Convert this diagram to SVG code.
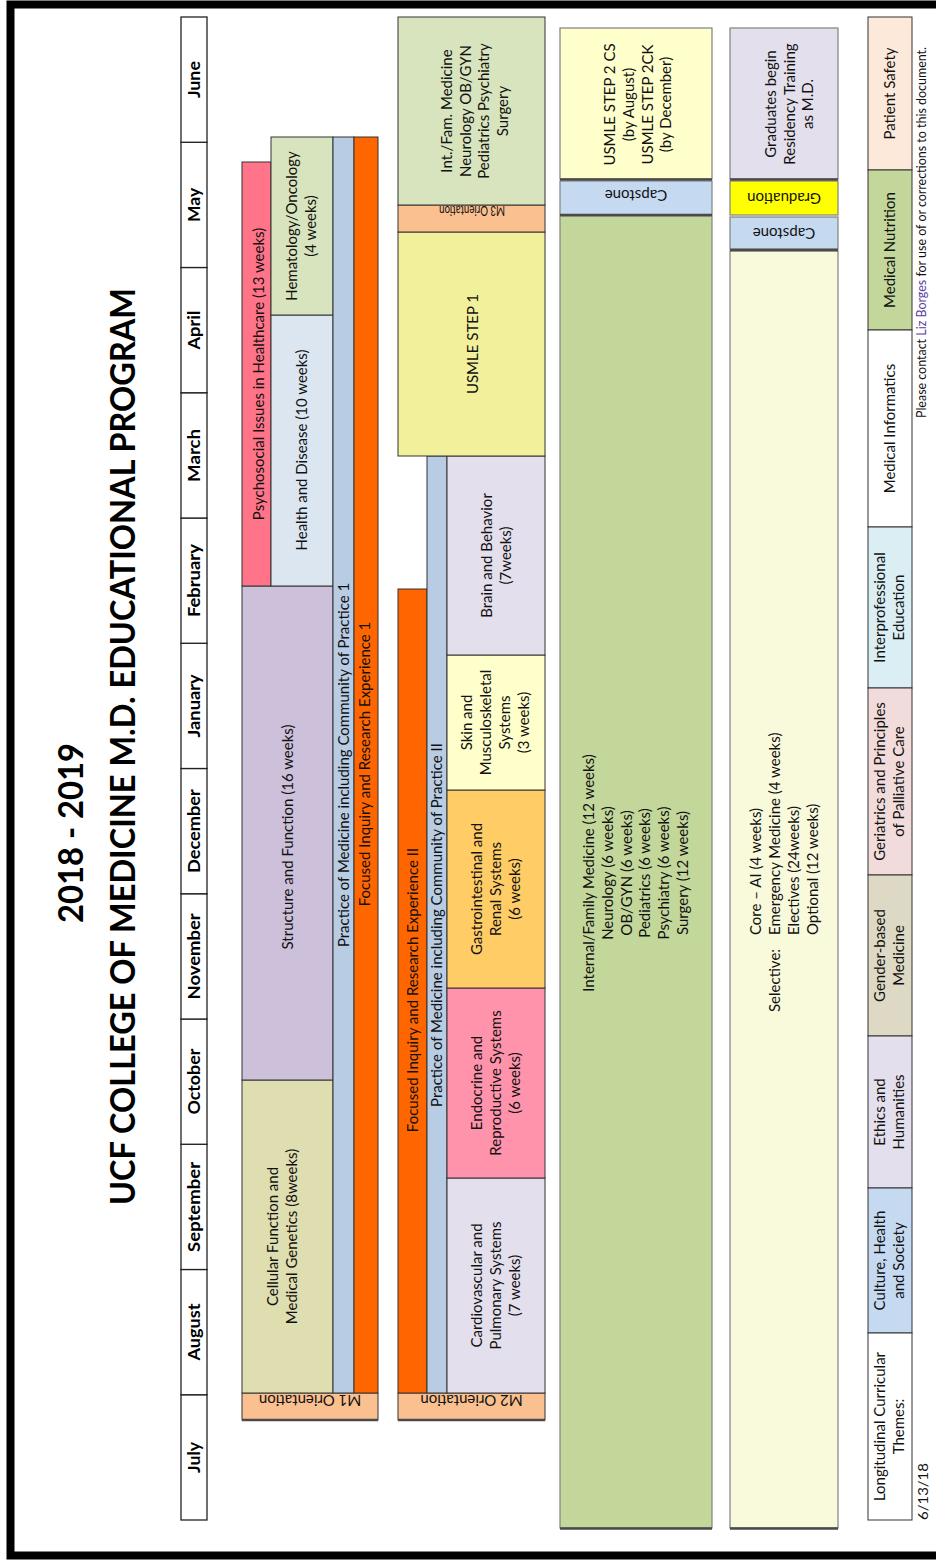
<svg xmlns="http://www.w3.org/2000/svg" width="936" height="1560" viewBox="0 0 936 1560">
<style>
text{font-family:Lato,"Liberation Sans",sans-serif;font-size:15px;fill:#111;text-anchor:middle}
.ti{font-size:35px;font-weight:bold;fill:#000}
.mo{font-size:17px;font-weight:bold;fill:#000}
.st{text-anchor:start}
.bx{stroke:#333;stroke-width:1}
.gb{stroke:#808080;stroke-width:1.2}
.sh{stroke:#4a4a4a;stroke-width:2.5}
.mc{fill:#fff;stroke:#222;stroke-width:1.3}
</style>
<rect width="936" height="1560" fill="#fff"/>
<rect x="10.5" y="4.5" width="1000" height="1551" fill="none" stroke="#000" stroke-width="8"/>

<g id="title">
<text class="ti" transform="translate(83 833) rotate(-90)" textLength="180" lengthAdjust="spacingAndGlyphs">2018 - 2019</text>
<text class="ti" transform="translate(135 746.5) rotate(-90)" textLength="917" lengthAdjust="spacingAndGlyphs">UCF COLLEGE OF MEDICINE M.D. EDUCATIONAL PROGRAM</text>
</g>

<g id="months">
<rect class="mc" x="181" y="1394.75" width="26" height="125.25"/>
<rect class="mc" x="181" y="1269.5" width="26" height="125.25"/>
<rect class="mc" x="181" y="1144.25" width="26" height="125.25"/>
<rect class="mc" x="181" y="1019" width="26" height="125.25"/>
<rect class="mc" x="181" y="893.75" width="26" height="125.25"/>
<rect class="mc" x="181" y="768.5" width="26" height="125.25"/>
<rect class="mc" x="181" y="643.25" width="26" height="125.25"/>
<rect class="mc" x="181" y="518" width="26" height="125.25"/>
<rect class="mc" x="181" y="392.75" width="26" height="125.25"/>
<rect class="mc" x="181" y="267.5" width="26" height="125.25"/>
<rect class="mc" x="181" y="142.25" width="26" height="125.25"/>
<rect class="mc" x="181" y="17" width="26" height="125.25"/>
<text class="mo" transform="translate(200 1457.4) rotate(-90)" textLength="31" lengthAdjust="spacingAndGlyphs">July</text>
<text class="mo" transform="translate(200 1332.1) rotate(-90)" textLength="57" lengthAdjust="spacingAndGlyphs">August</text>
<text class="mo" transform="translate(200 1206.9) rotate(-90)" textLength="90" lengthAdjust="spacingAndGlyphs">September</text>
<text class="mo" transform="translate(200 1081.6) rotate(-90)" textLength="66" lengthAdjust="spacingAndGlyphs">October</text>
<text class="mo" transform="translate(200 956.4) rotate(-90)" textLength="86" lengthAdjust="spacingAndGlyphs">November</text>
<text class="mo" transform="translate(200 831.1) rotate(-90)" textLength="84" lengthAdjust="spacingAndGlyphs">December</text>
<text class="mo" transform="translate(200 705.9) rotate(-90)" textLength="63" lengthAdjust="spacingAndGlyphs">January</text>
<text class="mo" transform="translate(200 580.6) rotate(-90)" textLength="73" lengthAdjust="spacingAndGlyphs">February</text>
<text class="mo" transform="translate(200 455.4) rotate(-90)" textLength="53" lengthAdjust="spacingAndGlyphs">March</text>
<text class="mo" transform="translate(200 330.1) rotate(-90)" textLength="39" lengthAdjust="spacingAndGlyphs">April</text>
<text class="mo" transform="translate(200 204.9) rotate(-90)" textLength="34" lengthAdjust="spacingAndGlyphs">May</text>
<text class="mo" transform="translate(200 79.6) rotate(-90)" textLength="37" lengthAdjust="spacingAndGlyphs">June</text>
</g>

<g id="m1">
<g id="m1-orientation"><rect class="bx" x="242" y="1393" width="136" height="27" fill="#FAC08F"/><line class="sh" x1="242" y1="1420" x2="378" y2="1420"/><text transform="translate(310 1394.5) rotate(180)">M1 Orientation</text></g>
<g id="m1-cellular"><rect class="bx" x="242" y="1080" width="91" height="313" fill="#DEDEB0"/><text transform="translate(278 1236.5) rotate(-90)"><tspan x="0" y="0">Cellular Function and</tspan><tspan x="0" dy="19">Medical Genetics (8weeks)</tspan></text></g>
<g id="m1-structure"><rect class="bx" x="242" y="586" width="91" height="494" fill="#CCC0DA"/><text transform="translate(293 837) rotate(-90)">Structure and Function (16 weeks)</text></g>
<g id="m1-psychosocial"><rect class="bx" x="242" y="162" width="29" height="424" fill="#FF7489"/><text transform="translate(264 374) rotate(-90)">Psychosocial Issues in Healthcare (13 weeks)</text></g>
<g id="m1-health"><rect class="bx" x="271" y="315" width="62" height="271" fill="#DCE6F1"/><text transform="translate(306.5 450) rotate(-90)">Health and Disease (10 weeks)</text></g>
<g id="m1-hematology"><rect class="bx" x="271" y="137" width="62" height="178" fill="#D7E4BD"/><text transform="translate(297 226) rotate(-90)"><tspan x="0" y="0">Hematology/Oncology</tspan><tspan x="0" dy="19">(4 weeks)</tspan></text></g>
<g id="m1-practice"><rect class="bx" x="333" y="137" width="21" height="1256" fill="#B8CCE4"/><text transform="translate(348.5 765) rotate(-90)">Practice of Medicine including Community of Practice 1</text></g>
<g id="m1-focused"><rect class="bx" x="354" y="137" width="24" height="1256" fill="#FF6600"/><text transform="translate(369.5 764) rotate(-90)">Focused Inquiry and Research Experience 1</text></g>
</g>

<g id="m2">
<g id="m2-orientation"><rect class="bx" x="398" y="1393" width="147" height="27" fill="#FAC08F"/><line class="sh" x1="398" y1="1420" x2="545" y2="1420"/><text transform="translate(471.5 1394.5) rotate(180)">M2 Orientation</text></g>
<g id="m2-focused"><rect class="bx" x="398" y="589" width="29" height="804" fill="#FF6600"/><text transform="translate(418 990) rotate(-90)">Focused Inquiry and Research Experience II</text></g>
<g id="m2-practice"><rect class="bx" x="427" y="456" width="20" height="937" fill="#B8CCE4"/><text transform="translate(441.5 925) rotate(-90)">Practice of Medicine including Community of Practice II</text></g>
<g id="m2-cardio"><rect class="bx" x="447" y="1178" width="98" height="215" fill="#E4DFEC"/><text transform="translate(481.5 1285.5) rotate(-90)"><tspan x="0" y="0">Cardiovascular and</tspan><tspan x="0" dy="19">Pulmonary Systems</tspan><tspan x="0" dy="19">(7 weeks)</tspan></text></g>
<g id="m2-endocrine"><rect class="bx" x="447" y="988" width="98" height="190" fill="#FF93AC"/><text transform="translate(481.5 1083) rotate(-90)"><tspan x="0" y="0">Endocrine and</tspan><tspan x="0" dy="19">Reproductive Systems</tspan><tspan x="0" dy="19">(6 weeks)</tspan></text></g>
<g id="m2-gi"><rect class="bx" x="447" y="790" width="98" height="198" fill="#FFCC66"/><text transform="translate(481.5 889) rotate(-90)"><tspan x="0" y="0">Gastrointestinal and</tspan><tspan x="0" dy="19">Renal Systems</tspan><tspan x="0" dy="19">(6 weeks)</tspan></text></g>
<g id="m2-skin"><rect class="bx" x="447" y="655" width="98" height="135" fill="#FFFFCC"/><text transform="translate(471.5 722.5) rotate(-90)"><tspan x="0" y="0">Skin and</tspan><tspan x="0" dy="19">Musculoskeletal</tspan><tspan x="0" dy="19">Systems</tspan><tspan x="0" dy="19">(3 weeks)</tspan></text></g>
<g id="m2-brain"><rect class="bx" x="447" y="456" width="98" height="199" fill="#E4DFEC"/><text transform="translate(492 555.5) rotate(-90)"><tspan x="0" y="0">Brain and Behavior</tspan><tspan x="0" dy="19">(7weeks)</tspan></text></g>
<g id="m2-usmle1"><rect class="bx" x="398" y="232" width="147" height="224" fill="#F2F09A"/><text transform="translate(477.5 344) rotate(-90)">USMLE STEP 1</text></g>
<g id="m3-orientation"><rect class="bx" x="398" y="205" width="147" height="27" fill="#FAC08F"/><text style="font-size:13px" transform="translate(472 206) rotate(180)" textLength="66" lengthAdjust="spacingAndGlyphs">M3 Orientation</text></g>
<g id="m2-clerkships"><rect class="bx" x="398" y="17" width="147" height="188" fill="#D7E4BD"/><text transform="translate(452 111) rotate(-90)"><tspan x="0" y="0">Int./Fam. Medicine</tspan><tspan x="0" dy="18.7">Neurology OB/GYN</tspan><tspan x="0" dy="18.7">Pediatrics Psychiatry</tspan><tspan x="0" dy="18.7">Surgery</tspan></text></g>
</g>

<g id="m3">
<g id="m3-clerkships"><rect class="gb" x="560" y="216" width="152" height="1312" fill="#C4D79B"/><line class="sh" x1="560" y1="1528.5" x2="712" y2="1528.5"/><text transform="translate(594 873) rotate(-90)"><tspan x="0" y="0">Internal/Family Medicine (12 weeks)</tspan><tspan x="0" dy="18.8">Neurology (6 weeks)</tspan><tspan x="0" dy="18.8">OB/GYN (6 weeks)</tspan><tspan x="0" dy="18.8">Pediatrics (6 weeks)</tspan><tspan x="0" dy="18.8">Psychiatry (6 weeks)</tspan><tspan x="0" dy="18.8">Surgery (12 weeks)</tspan></text></g>
<g id="m3-capstone"><rect class="gb" x="560" y="181" width="152" height="34" fill="#C5D9F1"/><line class="sh" x1="560" y1="215" x2="712" y2="215"/><text transform="translate(636 190) rotate(180)">Capstone</text></g>
<g id="m3-usmle2"><rect class="gb" x="560" y="28" width="152" height="151" fill="#FFFFCC"/><line class="sh" x1="560" y1="179.5" x2="712" y2="179.5"/><text transform="translate(615 104.5) rotate(-90)"><tspan x="0" y="0">USMLE STEP 2 CS</tspan><tspan x="0" dy="18.8">(by August)</tspan><tspan x="0" dy="18.8">USMLE STEP 2CK</tspan><tspan x="0" dy="18.8">(by December)</tspan></text></g>
</g>

<g id="m4">
<g id="m4-electives"><rect class="gb" x="730" y="251" width="108" height="1277" fill="#F9F9DC"/><line class="sh" x1="730" y1="1528.5" x2="838" y2="1528.5"/><text class="st" transform="translate(761 935) rotate(-90)"><tspan x="0" y="0">Core – AI (4 weeks)</tspan><tspan x="0" dy="19">Emergency Medicine (4 weeks)</tspan><tspan x="0" dy="19">Electives (24weeks)</tspan><tspan x="0" dy="19">Optional  (12 weeks)</tspan></text><text class="st" transform="translate(780 1012) rotate(-90)">Selective:</text></g>
<g id="m4-capstone"><rect class="gb" x="730" y="217" width="108" height="32" fill="#C5D9F1"/><line class="sh" x1="730" y1="250" x2="838" y2="250"/><text transform="translate(784 227.5) rotate(180)">Capstone</text></g>
<g id="m4-graduation"><rect class="gb" x="730" y="181" width="108" height="34" fill="#FFFF00"/><text transform="translate(784 193) rotate(180)">Graduation</text></g>
<g id="m4-residency"><rect class="gb" x="730" y="28" width="108" height="151" fill="#E4DFEC"/><line class="sh" x1="730" y1="179.5" x2="838" y2="179.5"/><text transform="translate(776 104) rotate(-90)"><tspan x="0" y="0">Graduates  begin</tspan><tspan x="0" dy="18.5">Residency Training</tspan><tspan x="0" dy="18.5">as M.D.</tspan></text></g>
</g>

<g id="themes">
<g id="th-patient"><rect class="bx" x="868" y="17" width="44" height="153" fill="#FDE9D9"/><text transform="translate(894.5 93.5) rotate(-90)">Patient Safety</text></g>
<g id="th-nutrition"><rect class="bx" x="868" y="170" width="44" height="160" fill="#C4D79B"/><text transform="translate(894.5 250) rotate(-90)">Medical Nutrition</text></g>
<g id="th-informatics"><rect class="bx" x="868" y="330" width="44" height="197" fill="#FFFFFF"/><text transform="translate(894.5 428.5) rotate(-90)">Medical Informatics</text></g>
<g id="th-ipe"><rect class="bx" x="868" y="527" width="44" height="161" fill="#DAEEF3"/><text transform="translate(885 607.5) rotate(-90)"><tspan x="0" y="0">Interprofessional</tspan><tspan x="0" dy="19">Education</tspan></text></g>
<g id="th-geriatrics"><rect class="bx" x="868" y="688" width="44" height="187" fill="#F2DCDB"/><text transform="translate(885 781.5) rotate(-90)"><tspan x="0" y="0">Geriatrics and Principles</tspan><tspan x="0" dy="19">of Palliative Care</tspan></text></g>
<g id="th-gender"><rect class="bx" x="868" y="875" width="44" height="161" fill="#DDD9C4"/><text transform="translate(885 955.5) rotate(-90)"><tspan x="0" y="0">Gender-based</tspan><tspan x="0" dy="19">Medicine</tspan></text></g>
<g id="th-ethics"><rect class="bx" x="868" y="1036" width="44" height="152" fill="#E4DFEC"/><text transform="translate(885 1112) rotate(-90)"><tspan x="0" y="0">Ethics and</tspan><tspan x="0" dy="19">Humanities</tspan></text></g>
<g id="th-culture"><rect class="bx" x="868" y="1188" width="44" height="145" fill="#C5D9F1"/><text transform="translate(885 1260.5) rotate(-90)"><tspan x="0" y="0">Culture, Health</tspan><tspan x="0" dy="19">and Society</tspan></text></g>
<g id="th-label"><rect class="bx" x="868" y="1333" width="44" height="187" fill="#FFFFFF"/><text transform="translate(885 1426.5) rotate(-90)"><tspan x="0" y="0">Longitudinal Curricular</tspan><tspan x="0" dy="19">Themes:</tspan></text></g>
</g>

<g id="footer">
<text class="st" style="font-size:13px" transform="translate(928 1520) rotate(-90)" textLength="57" lengthAdjust="spacingAndGlyphs">6/13/18</text>
<text class="st" style="font-size:13px" transform="translate(926 418) rotate(-90)" textLength="371" lengthAdjust="spacingAndGlyphs">Please contact <tspan fill="#5A3E9E">Liz Borges</tspan> for use of or corrections to this document.</text>
</g>
<g id="connectors"/>
</svg>
